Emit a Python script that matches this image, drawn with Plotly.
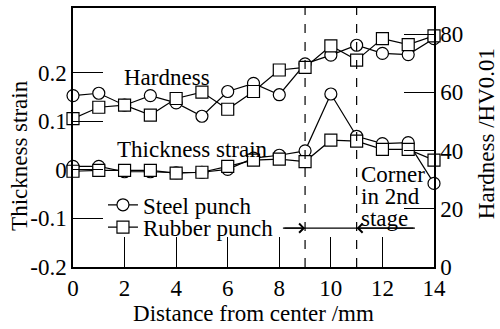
import plotly.graph_objects as go

# Measurement positions along the blank (mm from center)
distance = [0, 1, 2, 3, 4, 5, 6, 7, 8, 9, 10, 11, 12, 13, 14]

# Thickness strain (left axis)
strain_steel = [0.007, 0.007, -0.004, -0.004, -0.006, -0.005, 0.001, 0.024, 0.030, 0.039, 0.156, 0.069, 0.054, 0.056, -0.028]
strain_rubber = [-0.003, -0.001, -0.001, -0.001, -0.007, -0.005, 0.007, 0.020, 0.022, 0.017, 0.061, 0.059, 0.042, 0.042, 0.020]

# Hardness HV0.01 (right axis)
hard_steel = [58.9, 59.7, 55.6, 58.9, 56.4, 51.8, 60.3, 63.1, 59.2, 69.8, 72.8, 76.2, 73.4, 73.0, 78.5]
hard_rubber = [51.0, 54.9, 55.6, 52.2, 57.9, 60.1, 54.2, 60.3, 67.7, 68.6, 76.0, 71.1, 78.5, 76.4, 79.4]

x_ticks = [0, 2, 4, 6, 8, 10, 12, 14]
strain_ticks = [-0.2, -0.1, 0, 0.1, 0.2]
strain_labels = ["-0.2", "-0.1", "0", "0.1", "0.2"]
hard_ticks = [0, 20, 40, 60, 80]

corner_lines = ["Corner", "in 2nd", "stage"]

FONT = "Liberation Serif"
FS = 23
BLACK = "black"
serif = dict(family=FONT, size=FS, color=BLACK)

square = dict(symbol="square", size=12, color="white", line=dict(width=1.2, color=BLACK))
circle_fill = dict(symbol="circle", size=12, color="white", line=dict(width=1.2, color=BLACK))

fig = go.Figure()

# Steel punch (circles) drawn first, rubber punch (squares) on top
fig.add_trace(go.Scatter(x=distance, y=hard_steel, yaxis="y2", mode="lines+markers",
                         line=dict(color=BLACK, width=1.2), marker=circle_fill,
                         cliponaxis=False, showlegend=False))
fig.add_trace(go.Scatter(x=distance, y=strain_steel, mode="lines+markers",
                         line=dict(color=BLACK, width=1.2), marker=circle_fill,
                         cliponaxis=False, name="Steel punch", legend="legend"))
fig.add_trace(go.Scatter(x=distance, y=hard_rubber, yaxis="y2", mode="lines+markers",
                         line=dict(color=BLACK, width=1.2), marker=square,
                         cliponaxis=False, showlegend=False))
fig.add_trace(go.Scatter(x=distance, y=strain_rubber, mode="lines+markers",
                         line=dict(color=BLACK, width=1.2), marker=square,
                         cliponaxis=False, name="Rubber punch", legend="legend2"))

# Boundaries of the corner region
for xv in (9, 11):
    fig.add_shape(type="line", xref="x", yref="paper", x0=xv, x1=xv, y0=0, y1=1,
                  line=dict(color=BLACK, width=1.2, dash="dash"))

# Span marker for the corner region
arrow_y = -0.12
fig.add_shape(type="line", xref="x", yref="y", x0=8.14, x1=13.26, y0=arrow_y, y1=arrow_y,
              line=dict(color=BLACK, width=1.2))
for tip, tail in ((9, 8.14), (11, 13.26)):
    fig.add_annotation(x=tip, y=arrow_y, ax=tail, ay=arrow_y, axref="x", ayref="y",
                       xref="x", yref="y", text="", showarrow=True, arrowhead=4,
                       arrowsize=1.6, arrowwidth=1.1, arrowcolor=BLACK, standoff=0)

fig.add_annotation(x=1.89, y=0.189, xref="x", yref="y", text="Hardness", xanchor="left",
                   showarrow=False, font=serif)
fig.add_annotation(x=1.63, y=0.041, xref="x", yref="y", text="Thickness strain", xanchor="left",
                   showarrow=False, font=serif)
for i, line in enumerate(corner_lines):
    fig.add_annotation(x=11.1, y=-0.010 - i * 0.045, xref="x", yref="y", text=line,
                       xanchor="left", showarrow=False, font=serif)

# Axis titles
fig.add_annotation(x=0, y=0.429, xref="paper", yref="paper", xshift=-53, text="Thickness strain",
                   textangle=-90, xanchor="center", yanchor="middle", showarrow=False, font=serif)
fig.add_annotation(x=1, y=0.513, xref="paper", yref="paper", xshift=52, text="Hardness /HV0.01",
                   textangle=-90, xanchor="center", yanchor="middle", showarrow=False, font=serif)

axis_common = dict(showgrid=False, zeroline=False, linecolor=BLACK, linewidth=1.5,
                   ticks="inside", ticklen=30, tickwidth=1.2, tickcolor=BLACK,
                   tickfont=serif)

fig.update_layout(
    width=500, height=329,
    margin=dict(l=73, r=66, t=6, b=62),
    paper_bgcolor="white", plot_bgcolor="white",
    xaxis=dict(range=[0, 14], tickvals=x_ticks, mirror=True,
               title=dict(text="Distance from center /mm", font=serif, standoff=4),
               **axis_common),
    yaxis=dict(range=[-0.2, 0.333], tickvals=strain_ticks, ticktext=strain_labels, **axis_common),
    yaxis2=dict(range=[0, 89], tickvals=hard_ticks, overlaying="y", side="right", **axis_common),
    legend=dict(x=0.083, y=0.240, xanchor="left", yanchor="middle", bgcolor="rgba(0,0,0,0)",
                font=serif, borderwidth=0),
    legend2=dict(x=0.083, y=0.154, xanchor="left", yanchor="middle", bgcolor="rgba(0,0,0,0)",
                 font=serif, borderwidth=0),
)

fig.write_html("out.html")
